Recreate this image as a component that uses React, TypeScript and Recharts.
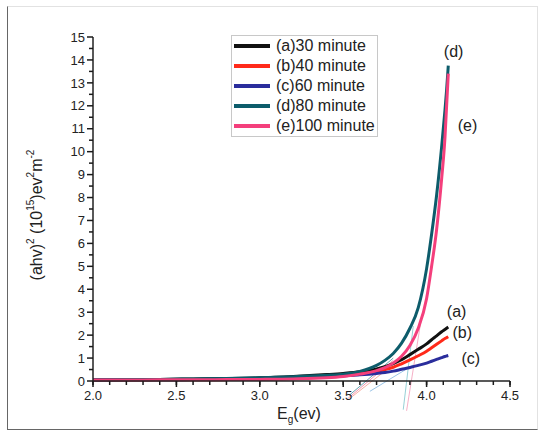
import React from "react";
import { LineChart, Line, XAxis, YAxis, Legend, ReferenceDot, ReferenceLine } from "recharts";

// photon energy (eV)
const energy = [2.0, 2.2, 2.4, 2.6, 2.8, 3.0, 3.2, 3.4, 3.5, 3.6, 3.7, 3.75, 3.8, 3.85, 3.9, 3.95, 4.0, 4.03, 4.06, 4.09, 4.11, 4.12, 4.13];

// (ahv)^2 in 10^15 ev^2 m^-2
const min30 = [0.05, 0.06, 0.07, 0.09, 0.11, 0.14, 0.2, 0.28, 0.33, 0.4, 0.52, 0.62, 0.76, 0.93, 1.15, 1.38, 1.62, 1.8, 1.97, 2.15, 2.25, 2.3, 2.35];
const min40 = [0.04, 0.04, 0.05, 0.05, 0.06, 0.08, 0.12, 0.18, 0.23, 0.3, 0.42, 0.5, 0.6, 0.75, 0.92, 1.1, 1.3, 1.45, 1.6, 1.75, 1.85, 1.89, 1.93];
const min60 = [0.04, 0.05, 0.05, 0.06, 0.07, 0.09, 0.13, 0.19, 0.23, 0.27, 0.33, 0.37, 0.43, 0.51, 0.59, 0.68, 0.78, 0.86, 0.94, 1.02, 1.07, 1.09, 1.11];
const min80 = [0.05, 0.06, 0.07, 0.09, 0.11, 0.14, 0.19, 0.25, 0.3, 0.42, 0.68, 0.9, 1.2, 1.65, 2.3, 3.2, 4.9, 6.4, 8.1, 10.2, 11.8, 12.7, 13.75];
const min100 = [0.04, 0.04, 0.05, 0.05, 0.06, 0.07, 0.09, 0.14, 0.2, 0.3, 0.45, 0.58, 0.78, 1.08, 1.55, 2.3, 3.6, 5.0, 6.6, 8.8, 10.6, 12.0, 13.4];

const seriesNames = ["(a)30 minute", "(b)40 minute", "(c)60 minute", "(d)80 minute", "(e)100 minute"];
const seriesColors = ["#111111", "#ff2a1a", "#2a2d9c", "#0d5c6b", "#f43f7c"];

const xMajor = [2.0, 2.5, 3.0, 3.5, 4.0, 4.5];
const yMajor = [0, 1, 2, 3, 4, 5, 6, 7, 8, 9, 10, 11, 12, 13, 14, 15];
const xTicks = Array.from({ length: 26 }, (_, i) => +(2 + i * 0.1).toFixed(1));
const yTicks = Array.from({ length: 31 }, (_, i) => i * 0.5);

// extrapolation (tangent) lines, in data units
const tangents = [
  { from: [3.54, -0.6], to: [3.8, 1.0], color: "#3d8c9a" },
  { from: [3.53, -0.75], to: [3.8, 0.9], color: "#f27a98" },
  { from: [3.55, -0.7], to: [3.78, 0.6], color: "#f59a8a" },
  { from: [3.66, -0.45], to: [3.92, 0.7], color: "#7fb4e0" },
  { from: [3.86, -1.25], to: [3.92, 2.4], color: "#7cc4cc" },
  { from: [3.88, -1.3], to: [3.97, 2.8], color: "#f39ab8" },
];

// curve tags
const tags = [
  { text: "(d)", x: 4.162, y: 14.37 },
  { text: "(e)", x: 4.245, y: 11.13 },
  { text: "(a)", x: 4.18, y: 3.04 },
  { text: "(b)", x: 4.214, y: 2.13 },
  { text: "(c)", x: 4.265, y: 0.98 },
];

const data = energy.map((e, i) => ({
  e,
  a: min30[i],
  b: min40[i],
  c: min60[i],
  d: min80[i],
  e2: min100[i],
}));
const dataKeys = ["a", "b", "c", "d", "e2"];

const FONT = "'Liberation Sans', Arial, sans-serif";

// label sits tickSize + tickMargin (10px) below the axis line; built-in tick lines draw the minor marks
const XTick = (props: any) => {
  const { x, y, payload } = props;
  const v = payload.value;
  const major = xMajor.some((m) => Math.abs(m - v) < 1e-6);
  if (!major) return <g />;
  const ay = y - 10;
  return (
    <g>
      <line x1={x} x2={x} y1={ay} y2={ay + 6} stroke="#1a1a1a" strokeWidth={1.5} />
      <text x={x} y={y} dy="0.71em" textAnchor="middle" fontSize={13} fontFamily={FONT} fill="#222">
        {v.toFixed(1)}
      </text>
    </g>
  );
};

const YTick = (props: any) => {
  const { x, y, payload } = props;
  const v = payload.value;
  const major = yMajor.includes(v);
  const ax = x + 8;
  return (
    <g>
      <line x1={ax - (major ? 6 : 4)} x2={ax} y1={y} y2={y} stroke="#1a1a1a" strokeWidth={1.5} />
      {major && (
        <text x={x} y={y} dy="0.36em" textAnchor="end" fontSize={13} fontFamily={FONT} fill="#222">
          {v}
        </text>
      )}
    </g>
  );
};

const LegendBox = (props: any) => {
  const { payload } = props;
  return (
    <div style={{ border: "1px solid #c8c8c8", background: "#fff", width: 145, fontFamily: FONT, fontSize: 16 }}>
      {payload.map((p: any) => (
        <div key={p.value} style={{ display: "flex", alignItems: "center", height: 20 }}>
          <span style={{ display: "inline-block", width: 36, height: 4, background: p.color, marginLeft: 2, marginRight: 6 }} />
          <span style={{ color: "#222", whiteSpace: "nowrap" }}>{p.value}</span>
        </div>
      ))}
    </div>
  );
};

const YTitle = () => {
  const cx = 36;
  const cy = 215;
  return (
    <text x={cx} y={cy} transform={`rotate(-90 ${cx} ${cy})`} textAnchor="middle" dominantBaseline="central" fontSize={16} fontFamily={FONT} fill="#222">
      (ahv)<tspan dy={-6} fontSize={10}>2</tspan>
      <tspan dy={6}> (10</tspan>
      <tspan dy={-6} fontSize={10}>15</tspan>
      <tspan dy={6}>)ev</tspan>
      <tspan dy={-6} fontSize={10}>2</tspan>
      <tspan dy={6}>m</tspan>
      <tspan dy={-6} fontSize={10}>-2</tspan>
    </text>
  );
};

const XTitle = () => (
  <text x={299} y={419} textAnchor="middle" fontSize={16} fontFamily={FONT} fill="#222">
    E<tspan dy={4} fontSize={10}>g</tspan>
    <tspan dy={-4}>(ev)</tspan>
  </text>
);

const App = () => {
  return (
    <div style={{ position: "absolute", left: 0, top: 0, width: 541, height: 432, background: "#fff" }}>
      <div
        style={{
          position: "absolute",
          left: 7,
          top: 6,
          width: 531,
          height: 424,
          borderLeft: "1.5px solid #666",
          borderBottom: "1.5px solid #666",
          borderTop: "1px solid #e2e2e2",
          borderRight: "1px solid #e2e2e2",
          boxSizing: "border-box",
        }}
      />
      <LineChart width={541} height={432} data={data} margin={{ top: 37, right: 31, left: 33, bottom: 20 }}>
        <XAxis
          dataKey="e"
          type="number"
          domain={[2, 4.5]}
          ticks={xTicks}
          interval={0}
          tickLine={{ stroke: "#1a1a1a", strokeWidth: 1.5 }}
          tickSize={4}
          tickMargin={6}
          tick={<XTick />}
          stroke="#222"
          strokeWidth={1.5}
          height={31}
          label={<XTitle />}
        />
        <YAxis
          type="number"
          domain={[0, 15]}
          ticks={yTicks}
          interval={0}
          tickLine={false}
          tickSize={5}
          tickMargin={3}
          tick={<YTick />}
          stroke="#222"
          strokeWidth={1.5}
          width={60}
          label={<YTitle />}
        />
        <Legend
          layout="horizontal"
          verticalAlign="middle"
          align="center"
          content={<LegendBox />}
          wrapperStyle={{ position: "absolute", left: 231, top: 35, width: 147 }}
        />
        {tangents.map((t, i) => (
          <ReferenceLine
            key={`t${i}`}
            segment={[
              { x: t.from[0], y: t.from[1] },
              { x: t.to[0], y: t.to[1] },
            ]}
            stroke={t.color}
            strokeWidth={0.8}
            ifOverflow="visible"
          />
        ))}
        {dataKeys.map((k, i) => (
          <Line
            key={k}
            type="monotone"
            dataKey={k}
            name={seriesNames[i]}
            stroke={seriesColors[i]}
            strokeWidth={3}
            dot={false}
            activeDot={false}
            isAnimationActive={false}
          />
        ))}
        {tags.map((t) => (
          <ReferenceDot
            key={t.text}
            x={t.x}
            y={t.y}
            r={0}
            ifOverflow="visible"
            label={{ value: t.text, position: "center", fontSize: 16, fontFamily: FONT, fill: "#222" }}
          />
        ))}
      </LineChart>
    </div>
  );
};

export default App;
